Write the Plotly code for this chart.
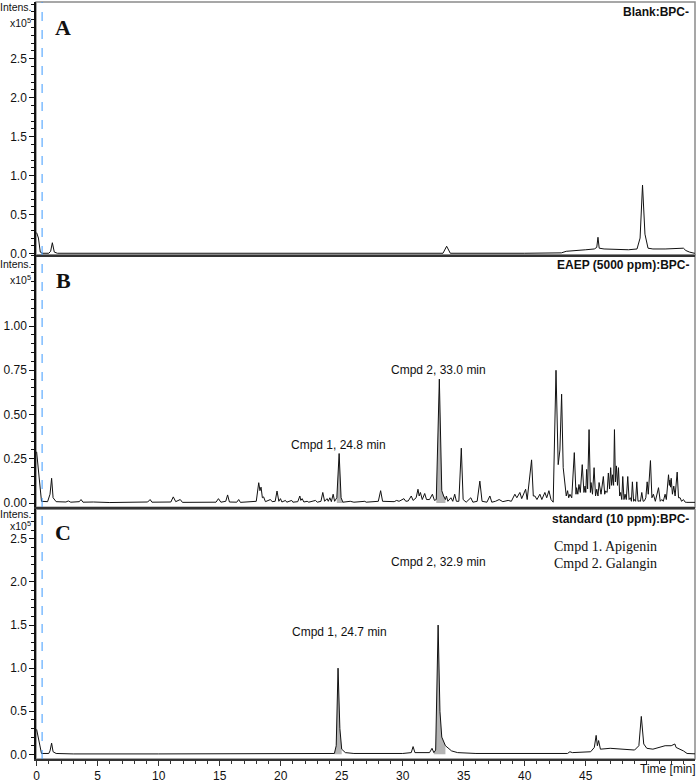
import plotly.graph_objects as go

# ---------------- data (intensity x10^5 vs time in min) ----------------
blank_t = [0.0, 0.15, 0.3, 0.45, 1.0, 1.15, 1.29, 1.45, 1.7, 2.4, 2.6, 2.8, 5, 10, 20, 30,
           33.3, 33.6, 33.9, 40, 43.0, 43.4, 44, 45.0, 45.7, 45.9, 46.0, 46.1, 46.5, 47.5,
           48.5, 49.2, 49.45, 49.65, 49.85, 50.1, 50.5, 51.5, 52.5, 53.0, 53.2, 53.5, 53.9, 54.1]
blank_i = [0.27, 0.2, 0.02, 0.005, 0.005, 0.03, 0.14, 0.02, 0.005, 0.005, 0.012, 0.003, 0.003,
           0.003, 0.003, 0.003, 0.005, 0.095, 0.005, 0.005, 0.01, 0.03, 0.035, 0.05, 0.06, 0.08,
           0.21, 0.07, 0.06, 0.055, 0.05, 0.06, 0.2, 0.88, 0.25, 0.07, 0.06, 0.06, 0.065, 0.07,
           0.04, 0.02, 0.005, 0.003]

eaep_t = [0.0, 0.25, 0.4, 0.9, 1.1, 1.23, 1.35, 1.6, 2.4, 2.6, 2.8, 3.5, 3.64, 3.8, 4.65, 6, 8,
          9.1, 9.3, 9.45, 11.0, 11.2, 11.4, 11.77, 11.95, 14.7, 14.9, 15.1, 15.5, 15.65, 15.8,
          16.4, 16.56, 16.7, 18.0, 18.2, 18.3, 18.39, 18.5, 18.6, 18.75, 19.16, 19.3, 19.55,
          19.7, 19.85, 19.98, 20.1, 20.39, 20.5, 20.9, 21.0, 21.4, 21.57, 21.65, 21.76, 21.9,
          22.17, 22.3, 22.85, 23.0, 23.3, 23.45, 23.6, 23.8, 23.9, 24.03, 24.15, 24.3, 24.42,
          24.6, 24.79, 24.95, 25.1, 25.7, 26.0, 26.9, 27.0, 28.0, 28.19, 28.35, 28.6, 29.3,
          29.5, 29.7, 30.1, 30.25, 30.45, 30.7, 30.85, 31.1, 31.25, 31.35, 31.45, 31.6, 31.8,
          31.95, 32.2, 32.43, 32.6, 32.75, 33.0, 33.2, 33.35, 33.5, 33.58, 33.7, 33.95, 34.1,
          34.26, 34.4, 34.6, 34.8, 34.95, 35.2, 35.58, 35.75, 36.1, 36.32, 36.5, 36.9, 37.14,
          37.3, 37.6, 37.9, 38.2, 38.64, 38.9, 39.19, 39.35, 39.6, 39.75, 40.07, 40.2, 40.56,
          40.7, 40.83, 41.0, 41.24, 41.4, 41.65, 41.8, 41.98, 42.15, 42.33, 42.56, 42.74,
          42.88, 43.02, 43.15, 43.29, 43.4, 43.51, 43.6, 43.7, 43.85, 44.06, 44.2, 44.25,
          44.35, 44.44, 44.55, 44.71, 44.85, 44.94, 45.0, 45.07, 45.15, 45.27, 45.38, 45.43,
          45.55, 45.68, 45.8, 45.9, 46.0, 46.09, 46.25, 46.44, 46.55, 46.63, 46.75, 46.85,
          46.95, 47.04, 47.12, 47.2, 47.28, 47.35, 47.43, 47.51, 47.6, 47.68, 47.78, 47.86,
          47.95, 48.03, 48.13, 48.22, 48.32, 48.44, 48.55, 48.66, 48.74, 48.82, 48.92, 48.99,
          49.08, 49.18, 49.28, 49.37, 49.48, 49.59, 49.7, 49.81, 49.92, 50.03, 50.12, 50.3,
          50.42, 50.54, 50.7, 50.96, 51.1, 51.23, 51.35, 51.5, 51.6, 51.78, 51.85, 51.89,
          51.95, 52.0, 52.1, 52.21, 52.32, 52.49, 52.6, 52.73, 52.85, 53.0, 53.15, 53.28,
          53.97, 54.1]
eaep_i = [0.29, 0.12, 0.01, 0.008, 0.05, 0.14, 0.03, 0.008, 0.006, 0.012, 0.005, 0.008, 0.02,
          0.005, 0.006, 0.003, 0.003, 0.006, 0.02, 0.005, 0.006, 0.035, 0.008, 0.02, 0.004,
          0.005, 0.025, 0.005, 0.01, 0.046, 0.006, 0.005, 0.02, 0.004, 0.01, 0.115, 0.07, 0.09,
          0.03, 0.035, 0.008, 0.02, 0.008, 0.01, 0.068, 0.01, 0.025, 0.006, 0.015, 0.005, 0.015,
          0.005, 0.008, 0.04, 0.015, 0.025, 0.006, 0.01, 0.005, 0.015, 0.005, 0.01, 0.06, 0.01,
          0.025, 0.01, 0.03, 0.008, 0.05, 0.01, 0.03, 0.28, 0.03, 0.005, 0.01, 0.005, 0.01,
          0.005, 0.01, 0.07, 0.01, 0.01, 0.008, 0.015, 0.01, 0.025, 0.01, 0.012, 0.04, 0.015,
          0.03, 0.078, 0.04, 0.06, 0.02, 0.054, 0.02, 0.02, 0.05, 0.015, 0.02, 0.70, 0.07,
          0.04, 0.02, 0.04, 0.01, 0.03, 0.01, 0.05, 0.01, 0.01, 0.31, 0.02, 0.005, 0.03,
          0.005, 0.01, 0.124, 0.01, 0.005, 0.04, 0.005, 0.01, 0.02, 0.008, 0.015, 0.01, 0.05,
          0.03, 0.06, 0.025, 0.078, 0.02, 0.244, 0.04, 0.04, 0.02, 0.05, 0.02, 0.06, 0.03,
          0.07, 0.02, 0.005, 0.75, 0.217, 0.30, 0.615, 0.2, 0.087, 0.04, 0.07, 0.03, 0.05,
          0.03, 0.285, 0.05, 0.087, 0.05, 0.105, 0.06, 0.217, 0.06, 0.096, 0.06, 0.19, 0.08,
          0.415, 0.06, 0.116, 0.05, 0.2, 0.04, 0.078, 0.04, 0.116, 0.05, 0.15, 0.05, 0.068,
          0.06, 0.17, 0.08, 0.2, 0.1, 0.16, 0.1, 0.415, 0.12, 0.21, 0.1, 0.2, 0.04, 0.06, 0.02,
          0.15, 0.02, 0.05, 0.02, 0.15, 0.02, 0.03, 0.01, 0.12, 0.01, 0.02, 0.01, 0.12, 0.01,
          0.013, 0.01, 0.06, 0.01, 0.013, 0.03, 0.12, 0.05, 0.24, 0.03, 0.05, 0.01, 0.087,
          0.01, 0.02, 0.01, 0.05, 0.02, 0.16, 0.1, 0.13, 0.09, 0.14, 0.05, 0.096, 0.04, 0.175,
          0.03, 0.03, 0.01, 0.02, 0.005, 0.004, 0.004, 0.004]

std_t = [0.0, 0.25, 0.4, 1.0, 1.1, 1.23, 1.35, 1.6, 3, 10, 20, 24.4, 24.55, 24.7, 24.85, 25.0,
         25.3, 26, 30, 30.7, 30.85, 31.0, 32.2, 32.4, 32.55, 32.7, 32.9, 33.05, 33.2, 33.5,
         34.0, 34.5, 36, 40, 43.5, 43.7, 43.9, 45.4, 45.7, 45.85, 45.95, 46.05, 46.2, 47, 48,
         49.0, 49.35, 49.55, 49.75, 50.0, 50.5, 51.0, 51.5, 52.0, 52.3, 52.4, 52.7, 53.0, 53.3,
         54.1]
std_i = [0.29, 0.1, 0.01, 0.01, 0.04, 0.13, 0.03, 0.01, 0.005, 0.005, 0.005, 0.01, 0.1, 1.0,
         0.3, 0.06, 0.02, 0.01, 0.01, 0.02, 0.09, 0.02, 0.02, 0.07, 0.02, 0.05, 1.5, 0.5, 0.2,
         0.1, 0.04, 0.02, 0.01, 0.01, 0.01, 0.03, 0.02, 0.03, 0.08, 0.22, 0.1, 0.16, 0.06, 0.07,
         0.06, 0.05, 0.1, 0.44, 0.12, 0.07, 0.06, 0.08, 0.1, 0.1, 0.12, 0.08, 0.06, 0.04, 0.01,
         0.005]

# integrated (shaded) peak windows: (start, end) in min
eaep_windows = [(24.6, 25.1), (32.75, 33.5)]
std_windows = [(24.4, 25.0), (32.55, 33.5)]

panel_titles = ["Blank:BPC-", "EAEP (5000 ppm):BPC-", "standard (10 ppm):BPC-"]
panel_letters = ["A", "B", "C"]
peak_labels_b = ["Cmpd 1, 24.8 min", "Cmpd 2, 33.0 min"]
peak_labels_c = ["Cmpd 1, 24.7 min", "Cmpd 2, 32.9 min"]
legend_lines = ["Cmpd 1. Apigenin", "Cmpd 2. Galangin"]
x_ticks = [0, 5, 10, 15, 20, 25, 30, 35, 40, 45]
y_ticks_a = [0.0, 0.5, 1.0, 1.5, 2.0, 2.5]
y_ticks_b = [0.0, 0.25, 0.5, 0.75, 1.0]
y_ticks_c = [0.0, 0.5, 1.0, 1.5, 2.0, 2.5]

# ---------------- figure ----------------
W, H = 696, 784
ML, MR, MT, MB = 36, 1, 2, 21
PW, PH = W - ML - MR, H - MT - MB


def xp(px):
    return (px - ML) / PW


def yp(py):
    return (H - MB - py) / PH


fig = go.Figure()

panels = [
    dict(t=blank_t, i=blank_i, win=[], xa="x", ya="y"),
    dict(t=eaep_t, i=eaep_i, win=eaep_windows, xa="x2", ya="y2"),
    dict(t=std_t, i=std_i, win=std_windows, xa="x3", ya="y3"),
]

for p in panels:
    for (a, b) in p["win"]:
        xs = [t for t in p["t"] if a <= t <= b]
        ys = [v for t, v in zip(p["t"], p["i"]) if a <= t <= b]
        fig.add_trace(go.Scatter(x=xs, y=ys, mode="lines", fill="tozeroy",
                                 fillcolor="#b4b4b4", line=dict(width=0, color="#b4b4b4"),
                                 xaxis=p["xa"], yaxis=p["ya"], showlegend=False,
                                 hoverinfo="skip"))
    fig.add_trace(go.Scatter(x=p["t"], y=p["i"], mode="lines",
                             line=dict(color="#111111", width=1),
                             xaxis=p["xa"], yaxis=p["ya"], showlegend=False))

tickfont = dict(family="Liberation Sans, Arial", size=12, color="#111")
xrange = [-0.05, 53.95]

doms = [[yp(256), 1.0], [yp(510), yp(256)], [0.0, yp(512)]]
yranges = [[-0.013, 3.227], [-0.024, 1.403], [-0.054, 2.843]]
yticks = [y_ticks_a, y_ticks_b, y_ticks_c]
yminor = [0.1, 0.05, 0.1]
yfmt = ["%.1f", "%.2f", "%.1f"]

layout = dict(
    width=W, height=H, margin=dict(l=ML, r=MR, t=MT, b=MB),
    paper_bgcolor="white", plot_bgcolor="white", showlegend=False,
)
for k in range(3):
    sx = "" if k == 0 else str(k + 1)
    last = (k == 2)
    layout["xaxis" + sx] = dict(
        domain=[0, 1], range=xrange, anchor="y" + sx,
        showline=True, linecolor="#333", linewidth=2,
        showgrid=False, zeroline=False,
        showticklabels=last, ticks="outside" if last else "",
        tickmode="array", tickvals=x_ticks, ticktext=[str(v) for v in x_ticks],
        ticklen=5, tickcolor="#333", tickfont=tickfont,
        minor=dict(dtick=1, tick0=0, ticklen=3, ticks="outside" if last else "",
                   tickcolor="#333", showgrid=False),
    )
    layout["yaxis" + sx] = dict(
        domain=doms[k], range=yranges[k], anchor="x" + sx,
        showline=True, linecolor="#111", linewidth=1.5,
        showgrid=False, zeroline=False,
        ticks="outside", ticklen=5, tickcolor="#111",
        tickmode="array", tickvals=yticks[k], ticktext=[yfmt[k] % v for v in yticks[k]],
        tickfont=tickfont,
        minor=dict(dtick=yminor[k], tick0=0, ticklen=3, ticks="outside",
                   tickcolor="#111", showgrid=False),
    )
fig.update_layout(**layout)

shapes = []
# panel frames (grey top and right borders)
for k in range(3):
    sx = "" if k == 0 else str(k + 1)
    shapes.append(dict(type="rect", xref="x" + sx + " domain", yref="y" + sx + " domain",
                       x0=0, x1=1, y0=0, y1=1, line=dict(color="#8a8a8a", width=1.5),
                       layer="below"))
# blue dashed divert line
shapes.append(dict(type="line", xref="x3", yref="paper", x0=0.45, x1=0.45, y0=0, y1=1,
                   line=dict(color="#3d9bff", width=1, dash="dash")))
fig.update_layout(shapes=shapes)

ann = []
small = dict(family="Liberation Sans, Arial", size=10.5, color="#111")
# Intens. / x10^5 labels
for y_int, y_exp in [(7, 23), (265, 281), (517, 528)]:
    ann.append(dict(text="Intens.", x=xp(34), y=yp(y_int), xref="paper", yref="paper",
                    xanchor="right", yanchor="middle", showarrow=False, font=small))
    ann.append(dict(text="x10<sup>5</sup>", x=xp(33), y=yp(y_exp), xref="paper", yref="paper",
                    xanchor="right", yanchor="middle", showarrow=False, font=small))
# panel letters
for letter, yy in zip(panel_letters, [28, 282, 535]):
    ann.append(dict(text="<b>%s</b>" % letter, x=xp(63), y=yp(yy), xref="paper", yref="paper",
                    xanchor="center", yanchor="middle", showarrow=False,
                    font=dict(family="Liberation Serif, Times New Roman", size=22, color="#111")))
# panel titles
for title, yy in zip(panel_titles, [12, 266, 522]):
    ann.append(dict(text="<b>%s</b>" % title, x=xp(691), y=yp(yy), xref="paper", yref="paper",
                    xanchor="right", yanchor="middle", showarrow=False,
                    font=dict(family="Liberation Sans, Arial", size=12, color="#111")))
# peak labels
lab = dict(family="Liberation Sans, Arial", size=12, color="#111")
for txt, (xx, yy) in zip(peak_labels_b, [(338, 447), (438, 372)]):
    ann.append(dict(text=txt, x=xp(xx), y=yp(yy), xref="paper", yref="paper",
                    xanchor="center", yanchor="middle", showarrow=False, font=lab))
for txt, (xx, yy) in zip(peak_labels_c, [(339, 635), (438, 565)]):
    ann.append(dict(text=txt, x=xp(xx), y=yp(yy), xref="paper", yref="paper",
                    xanchor="center", yanchor="middle", showarrow=False, font=lab))
# compound legend
for txt, yy in zip(legend_lines, [549, 566]):
    ann.append(dict(text=txt, x=xp(605), y=yp(yy), xref="paper", yref="paper",
                    xanchor="center", yanchor="middle", showarrow=False,
                    font=dict(family="Liberation Serif, Times New Roman", size=14, color="#111")))
# x axis title
ann.append(dict(text="Time [min]", x=xp(668), y=yp(773), xref="paper", yref="paper",
                xanchor="center", yanchor="middle", showarrow=False, font=tickfont))
fig.update_layout(annotations=ann)

fig.write_html("out.html", config={"displayModeBar": False},
               post_script="document.body.style.margin='0';")
